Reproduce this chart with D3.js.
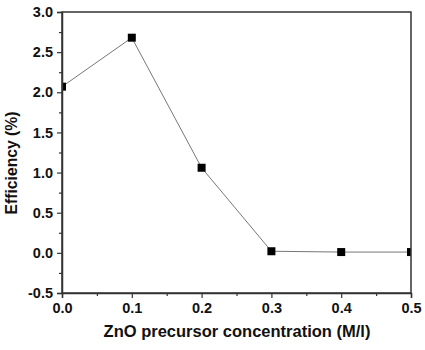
<!DOCTYPE html>
<html>
<head>
<meta charset="utf-8">
<script src="https://cdn.jsdelivr.net/npm/d3@7"></script>
<style>
  body { margin: 0; background: #fff; }
  svg text { font-family: "Liberation Sans", Arial, sans-serif; font-weight: bold; fill: #111; }
</style>
</head>
<body>
<svg id="chart" width="425" height="350"></svg>
<script>
var concentration = [0.0, 0.1, 0.2, 0.3, 0.4, 0.5];
var efficiency = [2.07, 2.68, 1.06, 0.02, 0.01, 0.01];
var xTicks = [0.0, 0.1, 0.2, 0.3, 0.4, 0.5];
var yTicks = [-0.5, 0.0, 0.5, 1.0, 1.5, 2.0, 2.5, 3.0];
var xLabel = 'ZnO precursor concentration (M/l)';
var yLabel = 'Efficiency (%)';

var dim = { left: 62, right: 411, top: 12, bottom: 293 };

var svg = d3.select('#chart');

var xScale = d3.scaleLinear().domain([0, 0.5]).range([dim.left, dim.right]);
var yScale = d3.scaleLinear().domain([-0.5, 3.0]).range([dim.bottom, dim.top]);

// plain hyphen for negatives, like the original
var fmt = function(d) { return d.toFixed(1); };

svg.append('clipPath')
    .attr('id', 'plot-clip')
    .append('rect')
    .attr('x', dim.left).attr('y', dim.top)
    .attr('width', dim.right - dim.left).attr('height', dim.bottom - dim.top);

// minor ticks first
var xMinor = d3.range(0.05, 0.5, 0.1);
var yMinor = d3.range(-0.25, 3.0, 0.5);

svg.append('g')
    .attr('transform', 'translate(0,' + dim.bottom + ')')
    .call(d3.axisBottom(xScale).tickValues(xMinor).tickSize(3).tickFormat(''))
    .call(function(g) { g.select('.domain').remove(); })
    .selectAll('line').attr('stroke', '#333').attr('stroke-width', 1.2);

svg.append('g')
    .attr('transform', 'translate(' + dim.left + ',0)')
    .call(d3.axisLeft(yScale).tickValues(yMinor).tickSize(3).tickFormat(''))
    .call(function(g) { g.select('.domain').remove(); })
    .selectAll('line').attr('stroke', '#333').attr('stroke-width', 1.2);

var points = concentration.map(function(c, i) {
    return { x: c, y: efficiency[i] };
});

var line = d3.line()
    .x(function(d) { return xScale(d.x); })
    .y(function(d) { return yScale(d.y); });

var plot = svg.append('g').attr('clip-path', 'url(#plot-clip)');

plot.append('path')
    .attr('d', line(points))
    .attr('fill', 'none')
    .attr('stroke', '#777')
    .attr('stroke-width', 1);

var size = 8;
plot.selectAll('rect.pt')
    .data(points)
    .enter().append('rect')
    .attr('class', 'pt')
    .attr('x', function(d) { return xScale(d.x) - size / 2; })
    .attr('y', function(d) { return yScale(d.y) - size / 2; })
    .attr('width', size)
    .attr('height', size)
    .attr('fill', '#000');

// frame
svg.append('rect')
    .attr('x', dim.left).attr('y', dim.top)
    .attr('width', dim.right - dim.left).attr('height', dim.bottom - dim.top)
    .attr('fill', 'none').attr('stroke', '#333').attr('stroke-width', 1.5);

var xAxis = svg.append('g')
    .attr('transform', 'translate(0,' + dim.bottom + ')')
    .call(d3.axisBottom(xScale).tickValues(xTicks).tickSize(5).tickPadding(5)
        .tickFormat(fmt));
xAxis.select('.domain').attr('stroke', '#333').attr('stroke-width', 1.5);
xAxis.selectAll('line').attr('stroke', '#333').attr('stroke-width', 1.2);
xAxis.selectAll('text').style('font-size', '14.5px').attr('fill', '#111');

var yAxis = svg.append('g')
    .attr('transform', 'translate(' + dim.left + ',0)')
    .call(d3.axisLeft(yScale).tickValues(yTicks).tickSize(5).tickPadding(4)
        .tickFormat(fmt));
yAxis.select('.domain').attr('stroke', '#333').attr('stroke-width', 1.5);
yAxis.selectAll('line').attr('stroke', '#333').attr('stroke-width', 1.2);
yAxis.selectAll('text').style('font-size', '14.5px').attr('fill', '#111');

// axis titles
svg.append('text')
    .attr('x', 237)
    .attr('y', 337)
    .attr('text-anchor', 'middle')
    .style('font-size', '16.5px')
    .text(xLabel);

svg.append('text')
    .attr('transform', 'translate(17,163) rotate(-90)')
    .attr('text-anchor', 'middle')
    .style('font-size', '15.7px')
    .text(yLabel);
</script>
</body>
</html>
